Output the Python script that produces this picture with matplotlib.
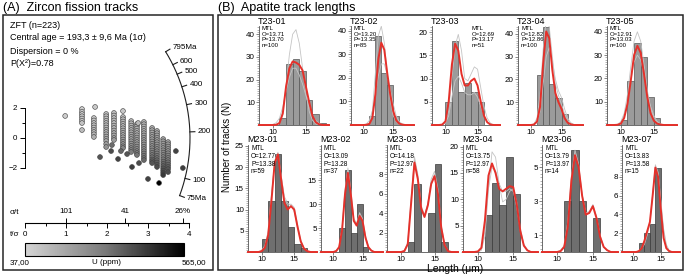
"""Zircon radial plot (A) + apatite track-length histograms (B)."""
import numpy as np
import matplotlib
matplotlib.use("Agg")
import matplotlib.pyplot as plt
from matplotlib.colors import LinearSegmentedColormap, Normalize
from matplotlib.cm import ScalarMappable
from matplotlib.patches import Rectangle
from matplotlib.ticker import AutoMinorLocator

plt.rcParams["font.family"] = ["Liberation Sans", "DejaVu Sans"]

# ---------------- data: (A) radial plot ----------------
ZFT_INFO = ["ZFT (n=223)", "Central age = 193,3 ± 9,6 Ma (1σ)", "Dispersion = 0 %", "P(X²)=0.78"]
ARC_AGES = [795, 600, 500, 400, 300, 200, 100, 75]
ARC_LABELS = ["795Ma", "600", "500", "400", "300", "200", "100", "75Ma"]
U_MIN, U_MAX = 37.0, 565.0

# grains in columns of equal precision (t/sigma), standardised estimate z, U (ppm)
COL_X = [1.39, 1.68, 1.98, 2.17, 2.39, 2.59, 2.73, 2.90, 3.10, 3.22, 3.37, 3.49]
COL_Z = [
    [1.93, 1.75, 1.6, 1.45, 1.3, 1.15, 1.0, 0.53],
    [1.33, 1.17, 1.0, 0.85, 0.7, 0.55, 0.4, 0.25, 0.07],
    [1.6, 1.45, 1.3, 1.15, 1.0, 0.85, 0.7, 0.55, 0.4, 0.25, 0.1, -0.05, -0.2, -0.4, -0.6],
    [1.67, 1.5, 1.33, 1.17, 1.0, 0.83, 0.67, 0.5, 0.33, 0.17, 0.0, -0.13],
    [1.4, 1.25, 1.1, 0.95, 0.8, 0.65, 0.5, 0.35, 0.2, 0.05, -0.1, -0.25, -0.4, -0.55, -0.67],
    [1.13, 0.98, 0.83, 0.68, 0.53, 0.38, 0.23, 0.08, -0.07, -0.22, -0.37, -0.52, -0.67, -0.8, -0.93],
    [0.93, 0.78, 0.63, 0.48, 0.33, 0.18, 0.03, -0.12, -0.27, -0.42, -0.57, -0.72, -0.87, -1.0, -1.13],
    [1.07, 0.92, 0.77, 0.62, 0.47, 0.32, 0.17, 0.02, -0.13, -0.28, -0.43, -0.58, -0.73, -0.88, -1.03,
     -1.18, -1.33, -1.47],
    [0.67, 0.52, 0.37, 0.22, 0.07, -0.08, -0.23, -0.38, -0.53, -0.68, -0.83, -0.98, -1.13, -1.28,
     -1.43, -1.55, -1.67],
    [0.47, 0.32, 0.17, 0.02, -0.13, -0.28, -0.43, -0.58, -0.73, -0.88, -1.03, -1.18, -1.33, -1.48,
     -1.63, -1.78, -1.93],
    [-0.07, -0.22, -0.37, -0.52, -0.67, -0.82, -0.97, -1.12, -1.27, -1.42, -1.57, -1.72, -1.87,
     -2.02, -2.17, -2.32, -2.47],
    [-0.27, -0.42, -0.57, -0.72, -0.87, -1.02, -1.17, -1.32, -1.47, -1.62, -1.77, -1.92, -2.07, -2.27],
]
COL_U = [
    [60, 65, 70, 75, 80, 85, 90, 110],
    [80, 85, 90, 95, 100, 110, 120, 130, 150],
    [90, 95, 100, 105, 110, 115, 120, 130, 140, 150, 160, 170, 180, 200, 230],
    [100, 105, 110, 115, 120, 130, 140, 150, 160, 170, 185, 200],
    [110, 115, 120, 125, 130, 140, 150, 160, 170, 180, 195, 210, 230, 250, 270],
    [120, 125, 130, 140, 150, 160, 170, 180, 190, 200, 215, 230, 250, 270, 290],
    [130, 135, 140, 150, 160, 170, 180, 190, 205, 220, 235, 250, 270, 290, 310],
    [130, 135, 140, 150, 160, 170, 180, 190, 200, 210, 225, 240, 255, 270, 285, 300, 320, 340],
    [150, 160, 170, 180, 190, 200, 210, 220, 235, 250, 265, 280, 300, 320, 340, 360, 380],
    [160, 170, 180, 190, 200, 210, 220, 235, 250, 265, 280, 300, 320, 340, 360, 380, 400],
    [180, 190, 200, 210, 220, 235, 250, 265, 280, 300, 320, 340, 360, 380, 400, 420, 440],
    [190, 200, 210, 220, 235, 250, 265, 280, 300, 320, 340, 360, 380, 400],
]
# isolated grains
OUT_X = [0.98, 1.71, 2.39, 2.76, 1.83, 2.12, 2.10, 2.27, 2.34, 2.49, 2.61, 2.78, 3.00, 3.27, 3.68, 3.85]
OUT_Z = [1.47, 2.07, 1.8, 1.0, -1.27, -0.47, -0.87, -1.4, -0.87, -1.07, -1.93, -1.67, -2.73, -3.0, -0.87, -2.0]
OUT_U = [60, 70, 80, 120, 380, 330, 400, 420, 350, 380, 430, 400, 420, 565, 420, 430]

# ---------------- data: (B) track lengths ----------------
NAMES = ["T23-01", "T23-02", "T23-03", "T23-04", "T23-05",
         "M23-01", "M23-02", "M23-03", "M23-04", "M23-06", "M23-07"]
O_MTL = [13.71, 13.20, 12.69, 12.82, 12.91, 12.77, 13.09, 14.18, 13.75, 13.79, 13.83]
P_MTL = [13.70, 13.35, 13.17, 12.86, 13.03, 13.38, 13.28, 12.97, 12.97, 13.97, 13.58]
N_TRACKS = [100, 85, 51, 100, 100, 59, 37, 22, 58, 14, 15]
BIN_START = [11, 11, 10, 11, 10, 10, 11, 11, 11, 11, 11]
COUNTS = [
    [3, 27, 29, 24, 11, 5, 1],
    [4, 38, 22, 17, 4],
    [5, 18, 7, 9, 7, 5],
    [22, 43, 18, 12, 5],
    [2, 19, 35, 29, 12, 3],
    [3, 12, 23, 12, 6, 2, 1],
    [5, 17, 4, 10, 1],
    [1, 7, 0, 4, 9, 1],
    [7, 13, 9, 18, 11],
    [3, 6, 3, 0, 2],
    [1, 2, 3, 9],
]
LEN_GRID = [8.0, 8.5, 9.0, 9.5, 10.0, 10.5, 11.0, 11.5, 12.0, 12.5, 13.0, 13.5, 14.0, 14.5,
            15.0, 15.5, 16.0, 16.5, 17.0, 17.5, 18.0, 18.5]
RED = [
    [0, 0, 0, 0, 0, 0.1, 0.8, 5, 17, 25, 28, 27.5, 26.5, 24, 17, 10, 4, 1.2, 0.3, 0, 0, 0],
    [0, 0, 0, 0, 0, 0.1, 0.5, 3, 13, 28, 35, 32, 22, 13, 6, 2, 0.6, 0.2, 0, 0, 0, 0],
    [0, 0, 0, 0.1, 0.8, 5, 13, 17.5, 16, 11, 8.5, 8.5, 9.5, 10, 8.5, 5, 2, 0.6, 0.1, 0, 0, 0],
    [0, 0, 0, 0, 0, 0.2, 1.5, 8, 27, 41, 38, 24, 14, 10, 7, 3, 1, 0.3, 0, 0, 0, 0],
    [0, 0, 0, 0.1, 0.6, 3, 9, 19, 30, 34, 31, 22, 12, 5, 1.8, 0.6, 0.2, 0, 0, 0, 0, 0],
    [0, 0, 0, 0, 0.2, 1, 4, 12, 21, 23, 17, 11.5, 10, 10.8, 10, 6, 2.5, 0.8, 0.2, 0, 0, 0],
    [0, 0, 0, 0, 0, 0.2, 1, 4.5, 12, 16.5, 12, 6.5, 5.5, 7.5, 6.5, 3, 1, 0.3, 0, 0, 0, 0],
    [0, 0, 0, 0, 0, 0.1, 0.8, 5, 9.2, 7.5, 4.5, 3.6, 4.8, 7, 7.8, 6, 2.5, 0.7, 0.1, 0, 0, 0],
    [0, 0, 0, 0, 0.1, 0.8, 6, 14.5, 16.8, 15, 12, 11.5, 12, 12.5, 12.3, 9, 4, 1.2, 0.3, 0, 0, 0],
    [0, 0, 0, 0, 0, 0.05, 0.3, 1.5, 4.2, 5.7, 5, 3.3, 2.2, 2.3, 2.7, 2, 0.9, 0.3, 0.1, 0, 0, 0],
    [0, 0, 0, 0, 0, 0, 0.1, 0.4, 1.2, 2.2, 3.2, 6, 9, 8, 4.5, 1.5, 0.4, 0.1, 0, 0, 0, 0],
]
GRAY_A = [
    [0, 0, 0, 0, 0, 0.3, 1.5, 6, 17, 31, 40, 42, 36, 25, 14, 6, 2, 0.5, 0, 0, 0, 0],
    [0, 0, 0, 0, 0, 0.2, 1, 6, 22, 38, 42, 35, 22, 11, 4, 1.5, 0.4, 0, 0, 0, 0, 0],
    [0, 0, 0, 0.1, 0.5, 3, 10, 17, 19.5, 16, 10, 9.5, 11, 12.5, 12, 8, 4, 1.5, 0.4, 0, 0, 0],
    [0, 0, 0, 0, 0, 0.5, 3, 13, 33, 46, 43, 30, 18, 13, 9, 5, 2, 0.6, 0, 0, 0, 0],
    [0, 0, 0, 0.3, 1.5, 5, 13, 25, 36, 40, 36, 26, 15, 7, 3, 1, 0.3, 0, 0, 0, 0, 0],
    [0, 0, 0, 0, 0.3, 1.2, 4, 13, 21.5, 23.5, 18, 12.5, 11, 11.3, 10.5, 6.5, 2.8, 1, 0.3, 0, 0, 0],
    [0, 0, 0, 0, 0, 0.3, 1.2, 5, 13, 17.5, 13, 7, 6, 8.2, 7, 3.5, 1.2, 0.3, 0, 0, 0, 0],
    [0, 0, 0, 0, 0, 0.2, 1, 5.5, 9.8, 8, 4.8, 3.8, 5, 7.5, 8.3, 6.5, 2.8, 0.8, 0.1, 0, 0, 0],
    [0, 0, 0, 0, 0, 0.3, 3, 12, 19, 18, 13, 9.5, 10, 11.5, 12, 9.5, 4.5, 1.5, 0.4, 0, 0, 0],
    [0, 0, 0, 0, 0, 0.1, 0.4, 1.8, 4.5, 6, 5.2, 3.4, 2.3, 2.4, 2.8, 2.1, 1, 0.3, 0.1, 0, 0, 0],
    [0, 0, 0, 0, 0, 0, 0.1, 0.5, 1, 2, 3.2, 6.2, 9.3, 8.5, 5.5, 2.5, 0.8, 0.2, 0, 0, 0, 0],
]
GRAY_B = [
    [0, 0, 0, 0, 0.3, 1, 3, 8, 15, 21, 25, 25, 22, 18, 13, 8, 4, 2, 0.7, 0.2, 0, 0],
    [0, 0, 0, 0, 0, 0.5, 2, 6, 13, 21, 26, 26, 21, 15, 9, 4, 1.5, 0.5, 0, 0, 0, 0],
    [0, 0, 0, 0.1, 0.4, 2, 6, 9.5, 10.5, 9, 7, 6.5, 6.5, 7, 6, 4, 2, 0.7, 0.2, 0, 0, 0],
    [0, 0, 0, 0, 0, 0.3, 1, 6, 18, 30, 34, 28, 20, 15, 12, 7, 3, 1, 0.3, 0, 0, 0],
    [0, 0, 0, 0.2, 1, 4, 10, 19, 27, 30, 28, 22, 14, 8, 4, 1.5, 0.5, 0, 0, 0, 0, 0],
    [0, 0, 0, 0, 0.4, 1.5, 5, 13.5, 21, 22.5, 18, 13, 11.5, 11, 9.5, 6, 2.5, 0.9, 0.2, 0, 0, 0],
    [0, 0, 0, 0, 0, 0.2, 1, 4.8, 12.5, 17, 12.5, 6.8, 5.8, 7.8, 6.8, 3.2, 1.1, 0.3, 0, 0, 0, 0],
    [0, 0, 0, 0, 0, 0.1, 0.9, 5.2, 9.5, 7.8, 4.6, 3.7, 4.9, 7.2, 8, 6.2, 2.6, 0.7, 0.1, 0, 0, 0],
    [0, 0, 0, 0, 0.1, 0.5, 4, 12, 16, 15.5, 13, 11.5, 11.5, 12, 11.5, 8.5, 4, 1.3, 0.3, 0, 0, 0],
    [0, 0, 0, 0, 0, 0.1, 0.35, 1.6, 4.3, 5.8, 5.1, 3.35, 2.25, 2.35, 2.75, 2.05, 0.95, 0.3, 0.1, 0, 0, 0],
    [0, 0, 0, 0, 0, 0, 0.1, 0.4, 0.8, 1.8, 3, 6, 9, 8.3, 5.3, 2.3, 0.7, 0.1, 0, 0, 0, 0],
]
Y_TICKS = [[10, 20, 30, 40], [10, 20, 30, 40], [5, 10, 15, 20], [10, 20, 30, 40], [10, 20, 30, 40],
           [5, 10, 15, 20, 25], [5, 10, 15], [2, 4, 6, 8], [5, 10, 15, 20], [1, 3, 5], [2, 4, 6, 8]]

# ---------------- layout (pixels of the 685x274 canvas) ----------------
W, H = 685, 274
XLIM = (7.9, 18.5)
AX_LR = [(259, 329), (351, 414), (432, 500), (518, 583), (607, 677),
         (248, 317), (321, 383), (387, 458), (463, 538), (542, 618), (622, 680)]
Y_TOP = [43.6, 42.1, 21.3, 43.4, 42.5, 25.2, 22.3, 11.0, 20.3, 6.3, 11.4]
INFO_X = [262, 354, 472, 521, 610, 251, 324, 390, 466, 545, 625]
ROW_TB = [(26, 125), (145, 252)]
INFO_SIZE = [4.3, 4.7]
PX_X, PX_Y, ORIG = 41.0, 15.0, (25, 138)   # radial plot: px per unit, origin
ARC_R, ARC_REF, ARC_GAIN = 165.0, 183.0, 1.141


def px_box(l, t, r, b):
    return [l / W, 1 - b / H, (r - l) / W, (b - t) / H]


def fx(x):
    return x / W


def fy(y):
    return 1 - y / H


fig = plt.figure(figsize=(6.85, 2.74), dpi=100)

for (l, t, r, b) in [(3, 15, 213, 270), (218, 15, 683, 270)]:
    fig.patches.append(Rectangle((l / W, 1 - b / H), (r - l) / W, (b - t) / H,
                                 transform=fig.transFigure, fill=False, lw=1.1, ec="#262626"))
fig.text(fx(3), fy(8), "(A)  Zircon fission tracks", fontsize=9, va="center")
fig.text(fx(218), fy(8), "(B)  Apatite track lengths", fontsize=9, va="center")

# ---------------- (A) radial plot ----------------
for k, s in enumerate(ZFT_INFO):
    fig.text(fx(10), fy(25 + 13 * k), s, fontsize=6.5, va="center")

cmap = LinearSegmentedColormap.from_list("u", ["#d4d4d4", "#7a7a7a", "#000000"])
norm = Normalize(U_MIN, U_MAX)

axR = fig.add_axes(px_box(5, 30, 211, 230))
axR.set_xlim((5 - ORIG[0]) / PX_X, (211 - ORIG[0]) / PX_X)
axR.set_ylim((ORIG[1] - 230) / PX_Y, (ORIG[1] - 30) / PX_Y)
axR.patch.set_alpha(0)
for s in ["top", "right", "bottom"]:
    axR.spines[s].set_visible(False)
axR.spines["left"].set_position(("data", 0))
axR.spines["left"].set_bounds(-2, 2)
axR.spines["left"].set_linewidth(0.7)
axR.set_xticks([])
axR.set_yticks([-2, 0, 2])
axR.set_yticks([-1, 1], minor=True)
axR.tick_params(axis="y", which="major", length=3.5, width=0.7, labelsize=5.8, pad=2)
axR.tick_params(axis="y", which="minor", length=2, width=0.7)

px_ = [COL_X[c] for c in range(len(COL_X)) for _ in COL_Z[c]] + OUT_X
pz_ = [z for col in COL_Z for z in col] + OUT_Z
pu_ = [u for col in COL_U for u in col] + OUT_U
axR.scatter(px_, pz_, c=pu_, cmap=cmap, norm=norm, s=12, edgecolors="#3c3c3c",
            linewidths=0.4, zorder=3)


def arc_angle(age):
    return np.arctan((PX_Y / PX_X) * ARC_GAIN * np.log(age / ARC_REF))


th = np.linspace(arc_angle(ARC_AGES[-1]), arc_angle(ARC_AGES[0]), 200)
axR.plot(ARC_R / PX_X * np.cos(th), ARC_R / PX_Y * np.sin(th), color="#1e1e1e", lw=0.8)
for age, lab in zip(ARC_AGES, ARC_LABELS):
    a = arc_angle(age)
    axR.plot([ARC_R / PX_X * np.cos(a), (ARC_R + 5) / PX_X * np.cos(a)],
             [ARC_R / PX_Y * np.sin(a), (ARC_R + 5) / PX_Y * np.sin(a)], color="#1e1e1e", lw=0.8)
    axR.text((ARC_R + 8) / PX_X * np.cos(a), (ARC_R + 8) / PX_Y * np.sin(a), lab,
             fontsize=5.8, ha="left", va="center")

# t/sigma axis with sigma/t on top
axT = fig.add_axes(px_box(5, 222.9, 211, 223))
axT.set_xlim(axR.get_xlim())
axT.set_ylim(0, 1)
axT.patch.set_alpha(0)
for s in ["left", "right", "top"]:
    axT.spines[s].set_visible(False)
axT.spines["bottom"].set_bounds(0, 4)
axT.spines["bottom"].set_linewidth(0.8)
axT.set_yticks([])
axT.set_xticks([0, 1, 2, 3, 4])
axT.set_xticks([0.5, 1.5, 2.5, 3.5], minor=True)
axT.tick_params(axis="x", which="major", length=3.5, width=0.7, labelsize=5.8, pad=2.5)
axT.tick_params(axis="x", which="minor", length=2, width=0.7)
sec = axT.secondary_xaxis("top")
sec.set_xticks([100 / 101, 100 / 41, 100 / 26], labels=["101", "41", "26%"])
sec.tick_params(length=3.5, width=0.7, labelsize=5.8, pad=2)
sec.spines["top"].set_visible(False)
fig.text(fx(10), fy(213), "σ/t", fontsize=5.8, va="center")
fig.text(fx(10), fy(235), "t/σ", fontsize=5.8, va="center")

cax = fig.add_axes(px_box(25, 243, 184, 256))
cb = fig.colorbar(ScalarMappable(norm=norm, cmap=cmap), cax=cax, orientation="horizontal")
cb.set_ticks([])
cb.outline.set_linewidth(0.8)
fig.text(fx(10), fy(263), "37,00", fontsize=5.8, va="center")
fig.text(fx(107), fy(263), "U (ppm)", fontsize=5.8, va="center", ha="center")
fig.text(fx(206), fy(263), "565,00", fontsize=5.8, va="center", ha="right")

# ---------------- (B) track-length histograms ----------------
BAR_FC = ["#9b9b9b", "#6f6f6f"]
BAR_EC = ["#555555", "#3a3a3a"]
for i, name in enumerate(NAMES):
    row = 0 if i < 5 else 1
    l, r = AX_LR[i]
    t, b = ROW_TB[row]
    ax = fig.add_axes(px_box(l, t, r, b))
    ax.patch.set_alpha(0)
    edges = [BIN_START[i] + k for k in range(len(COUNTS[i]))]
    ax.bar(edges, COUNTS[i], width=1, align="edge", color=BAR_FC[row],
           edgecolor=BAR_EC[row], lw=0.5, zorder=1)
    xs = [XLIM[0]] + LEN_GRID + [XLIM[1]]
    for g in (GRAY_A[i], GRAY_B[i]):
        ax.plot(xs, [0] + g + [0], color="#c4c4c4", lw=0.6, zorder=2)
    ax.plot(xs, [0] + RED[i] + [0], color="#e5302a", lw=1.4, zorder=3, clip_on=False)
    ax.set_xlim(*XLIM)
    ax.set_ylim(0, Y_TOP[i])
    for s in ["top", "right"]:
        ax.spines[s].set_visible(False)
    for s in ["left", "bottom"]:
        ax.spines[s].set_linewidth(0.6)
        ax.spines[s].set_color("#555555")
    ax.set_xticks([10, 15])
    ax.set_yticks(Y_TICKS[i])
    ax.yaxis.set_minor_locator(AutoMinorLocator(8 if Y_TICKS[i][0] == 2 else 10))
    ax.tick_params(which="major", length=2, width=0.5, labelsize=5.8, pad=1, color="#555555")
    ax.tick_params(axis="y", which="minor", length=1.1, width=0.4, color="#777777")
    fig.text(fx(l - 1), fy(t - 5), name, fontsize=6.5, va="center")
    fig.text(fx(INFO_X[i]), fy(t + 0.5),
             f"MTL\nO={O_MTL[i]:.2f}\nP={P_MTL[i]:.2f}\nn={N_TRACKS[i]}",
             fontsize=INFO_SIZE[row], va="top", ha="left", linespacing=1.1)

fig.text(fx(227), fy(147), "Number of tracks (N)", fontsize=7, rotation=90,
         va="center", ha="center")
fig.text(fx(455), fy(268.5), "Length (μm)", fontsize=7.5, va="center", ha="center")

fig.savefig("out.png", dpi=100)
